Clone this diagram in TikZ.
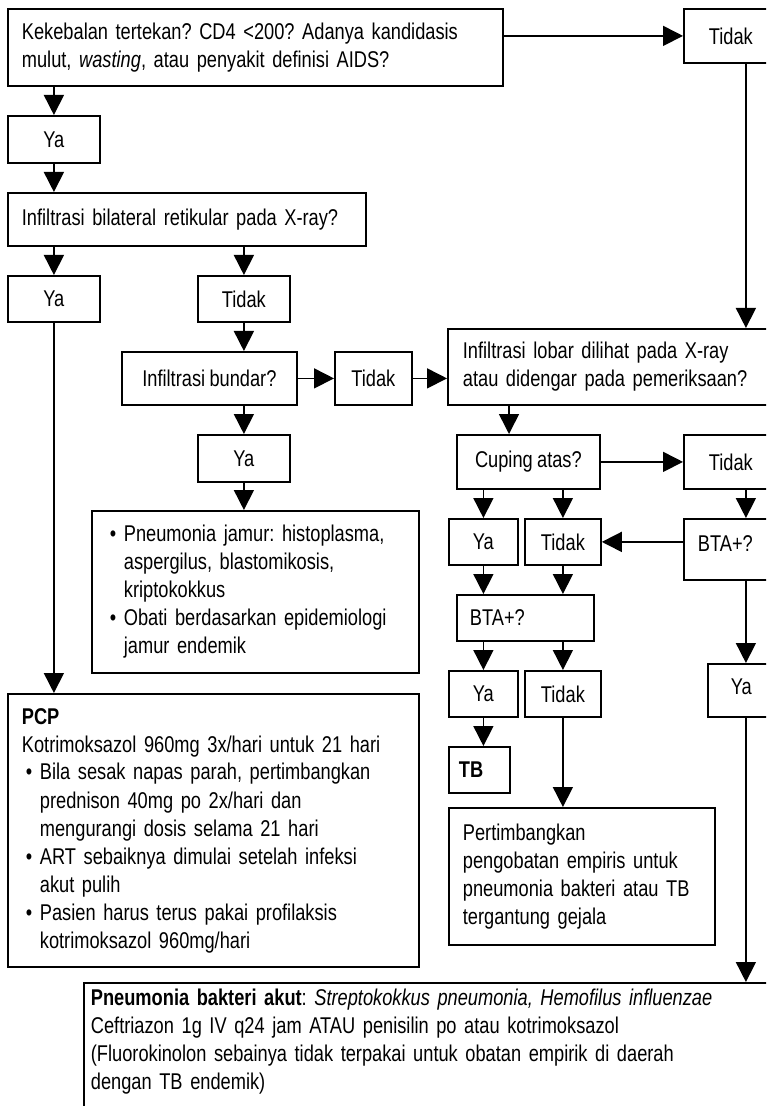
\documentclass[tikz,border=0pt]{standalone}
\usepackage{fontspec}
\setmainfont{Liberation Sans}[FakeStretch=0.8, WordSpace=0.85]
\usepackage{tikz}
\usetikzlibrary{arrows.meta}
\frenchspacing
\hyphenpenalty=10000

\newcommand{\bul}{\makebox[9pt][l]{\hspace{2pt}\textbullet}}
\newcommand{\ind}{\hspace*{9pt}}

\begin{document}
\begin{tikzpicture}[x=0.5pt, y=-0.5pt,
  txt/.style={font=\fontsize{11.4}{14}\selectfont},
  qbox/.style={txt, draw, line width=0.9pt, anchor=north west, align=left, inner xsep=7pt, inner ysep=0pt},
  lbl/.style={txt, draw, line width=0.9pt, anchor=north west, align=center, inner sep=0pt},
  arr/.style={-{Triangle[length=10pt, width=10pt]}, line width=0.8pt}]
\path[clip, use as bounding box] (0,0) rectangle (766,1106);

% left column
\node[qbox, text width=233.5pt, minimum height=38.5pt] (q1) at (7,8) {Kekebalan tertekan? CD4 <200? Adanya kandidasis\\ mulut, \textit{wasting}, atau penyakit definisi AIDS?};
\node[qbox, inner xsep=12.5pt, text width=37pt, minimum height=27pt] (tidak1) at (683,8) {Tidak};
\node[lbl, minimum width=46pt, minimum height=23.5pt] (ya1) at (7,115) {Ya};
\node[qbox, text width=165pt, minimum height=26.5pt] (q2) at (7,192) {Infiltrasi bilateral retikular pada X-ray?};
\node[lbl, minimum width=46pt, minimum height=23pt] (ya2) at (7,275) {Ya};
\node[lbl, minimum width=46pt, minimum height=23pt] (tidak2) at (197,275) {Tidak};
\node[lbl, minimum width=87.5pt, minimum height=26.5pt] (q3) at (121,351) {Infiltrasi bundar?};
\node[lbl, minimum width=38.5pt, minimum height=26.5pt] (tidak3) at (334,351) {Tidak};
\node[lbl, minimum width=46pt, minimum height=23.5pt] (ya3) at (197,434) {Ya};
\node[qbox, inner xsep=7pt, text width=149.5pt, minimum height=81pt] (jamur) at (91,510) {\bul Pneumonia jamur: histoplasma,\\ \ind aspergilus, blastomikosis,\\ \ind kriptokokkus\\ \bul Obati berdasarkan epidemiologi\\ \ind jamur endemik};
\node[qbox, text width=191.5pt, minimum height=136.5pt] (pcp) at (7,693) {\textbf{PCP}\\ Kotrimoksazol 960mg 3x/hari untuk 21 hari\\ \bul Bila sesak napas parah, pertimbangkan\\ \ind prednison 40mg po 2x/hari dan\\ \ind mengurangi dosis selama 21 hari\\ \bul ART sebaiknya dimulai setelah infeksi\\ \ind akut pulih\\ \bul Pasien harus terus pakai profilaksis\\ \ind kotrimoksazol 960mg/hari};

% right part
\node[qbox, inner xsep=7.5pt, text width=155pt, minimum height=38pt] (q4) at (447,328) {Infiltrasi lobar dilihat pada X-ray\\ atau didengar pada pemeriksaan?};
\node[lbl, minimum width=71.5pt, minimum height=27pt] (q5) at (456,434) {Cuping atas?};
\node[qbox, inner xsep=12.5pt, text width=37pt, minimum height=27pt] (tidak4) at (683,434) {Tidak};
\node[lbl, minimum width=34.5pt, minimum height=23pt] (ya4) at (448,518) {Ya};
\node[lbl, minimum width=38pt, minimum height=23pt] (tidak5) at (524,518) {Tidak};
\node[qbox, text width=48pt, text depth=6pt, minimum height=30.5pt] (bta1) at (683,518) {BTA+?};
\node[qbox, inner xsep=6.5pt, text width=55.5pt, minimum height=23pt] (bta2) at (456,594) {BTA+?};
\node[lbl, minimum width=34.5pt, minimum height=23pt] (ya5) at (448,670) {Ya};
\node[lbl, minimum width=38pt, minimum height=23pt] (tidak6) at (524,670) {Tidak};
\node[qbox, inner xsep=11.5pt, text width=15pt, text depth=4pt, minimum height=26.5pt] (ya6) at (707,663) {Ya};
\node[qbox, inner xsep=5pt, text width=20.5pt, minimum height=23pt] (tb) at (448,746) {\textbf{TB}};
\node[qbox, text width=119pt, minimum height=68.5pt] (pert) at (448,807) {Pertimbangkan\\ pengobatan empiris untuk\\ pneumonia bakteri atau TB\\ tergantung gejala};
\node[qbox, inner xsep=3.5pt, inner ysep=3pt, text width=353pt] (pneu) at (83,982) {\textbf{Pneumonia bakteri akut}: \textit{Streptokokkus pneumonia, Hemofilus influenzae}\\ Ceftriazon 1g IV q24 jam ATAU penisilin po atau kotrimoksazol\\ (Fluorokinolon sebainya tidak terpakai untuk obatan empirik di daerah\\ dengan TB endemik)\\ \rule{0pt}{12pt}};

\coordinate (c45) at ([xshift=31pt]q4.south west);

% connectors
\draw[arr] (q1.east |- tidak1.west) -- (tidak1.west);
\draw[arr] (q1.south -| ya1.north) -- (ya1.north);
\draw[arr] (ya1.south) -- (ya1.south |- q2.north);
\draw[arr] (tidak1.south) -- (tidak1.south |- q4.north);
\draw[arr] (q2.south -| ya2.north) -- (ya2.north);
\draw[arr] (q2.south -| tidak2.north) -- (tidak2.north);
\draw[arr] (ya2.south) -- (ya2.south |- pcp.north);
\draw[arr] (tidak2.south) -- (tidak2.south |- q3.north);
\draw[arr] (q3.east) -- (tidak3.west);
\draw[arr] (tidak3.east) -- (tidak3.east -| q4.west);
\draw[arr] (q3.south -| ya3.north) -- (ya3.north);
\draw[arr] (ya3.south) -- (ya3.south |- jamur.north);
\draw[arr] (c45) -- (c45 |- q5.north);
\draw[arr] (q5.east) -- (q5.east -| tidak4.west);
\draw[arr] (q5.south -| ya4.north) -- (ya4.north);
\draw[arr] (q5.south -| tidak5.north) -- (tidak5.north);
\draw[arr] (tidak4.south) -- (bta1.north);
\draw[arr] (bta1.west |- tidak5.east) -- (tidak5.east);
\draw[arr] (ya4.south) -- (ya4.south |- bta2.north);
\draw[arr] (tidak5.south) -- (tidak5.south |- bta2.north);
\draw[arr] (bta2.south -| ya5.north) -- (ya5.north);
\draw[arr] (bta2.south -| tidak6.north) -- (tidak6.north);
\draw[arr] (bta1.south) -- (bta1.south |- ya6.north);
\draw[arr] (ya5.south) -- (ya5.south |- tb.north);
\draw[arr] (tidak6.south) -- (tidak6.south |- pert.north);
\draw[arr] (ya6.south) -- (ya6.south |- pneu.north);
\end{tikzpicture}
\end{document}
